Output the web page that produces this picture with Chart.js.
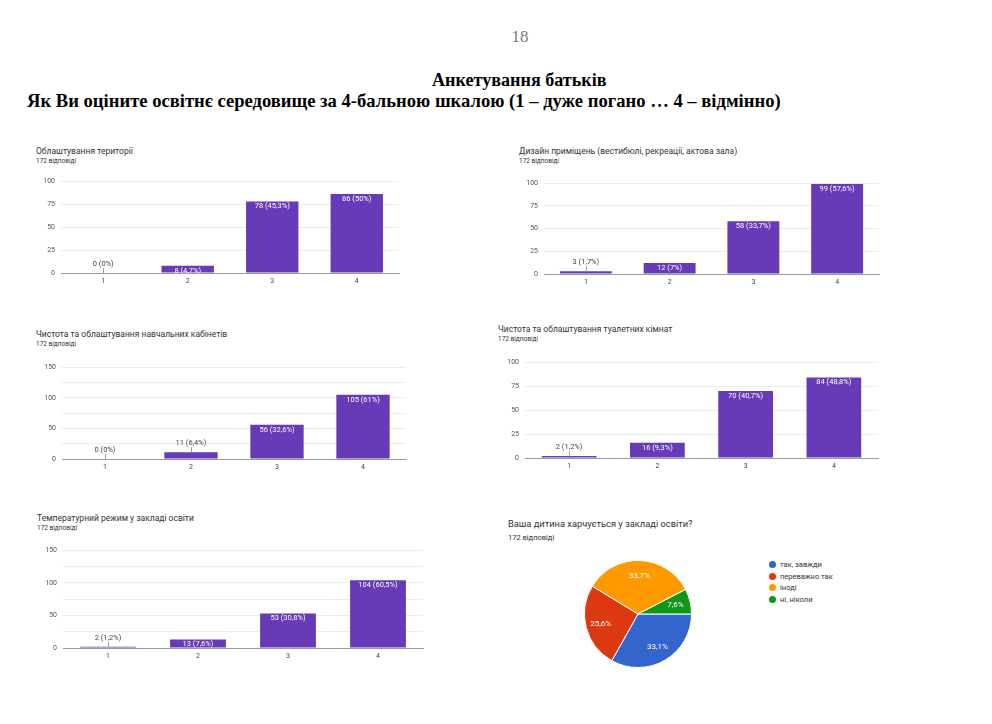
<!DOCTYPE html>
<html>
<head>
<meta charset="utf-8">
<script src="https://cdn.jsdelivr.net/npm/chart.js@4.4.1/dist/chart.umd.min.js"></script>
<style>
  body { margin: 0; background: #fff; }
  #page { position: relative; width: 992px; height: 724px; overflow: hidden; font-family: Roboto, Arial, sans-serif; }
  .abs { position: absolute; white-space: nowrap; }
  .pageNo { left: 0; width: 1040px; top: 27px; text-align: center; font: 17px "Liberation Serif", serif; color: #7a7a7a; }
  .head { font-family: "Liberation Serif", serif; font-weight: bold; color: #000; font-size: 18px; transform-origin: 0 0; }
  .ctitle { font-size: 8.5px; color: #333; }
  .csub { font-size: 6.5px; color: #333; }
  .legend { font-size: 7.5px; color: #333; }
  .legend .dot { display: inline-block; width: 7px; height: 7px; border-radius: 50%; margin-right: 4px; vertical-align: -1px; }
  canvas { position: absolute; }
</style>
</head>
<body>
<div id="page">
  <div class="abs pageNo">18</div>
  <div class="abs head" id="h1" style="left:432px;top:70px;">Анкетування батьків</div>
  <div class="abs head" id="h2" style="left:27px;top:91px;">Як Ви оціните освітнє середовище за 4-бальною шкалою (1 – дуже погано … 4 – відмінно)</div>
</div>
<script>
// Rating scale shared by the bar charts
const ratingLabels = ['1', '2', '3', '4'];
const totalResponses = 172;
const responsesText = '172 відповіді';

// Counts per rating
const territoryCounts = [0, 8, 78, 86];
const roomDesignCounts = [3, 12, 58, 99];
const classroomCounts = [0, 11, 56, 105];
const toiletCounts = [2, 16, 70, 84];
const temperatureCounts = [2, 13, 53, 104];

// Pie chart: meals
const mealLabels = ['так, завжди', 'переважно так', 'іноді', 'ні, ніколи'];
const mealCounts = [57, 44, 58, 13];
const mealColors = ['#3366cc', '#dc3912', '#ff9900', '#109618'];

const BAR_COLOR = '#673ab7';
const page = document.getElementById('page');

// squeeze the headings to the widths seen in the picture
function fitWidth(id, w) {
    const el = document.getElementById(id);
    el.style.transform = 'scaleX(' + (w / el.offsetWidth) + ')';
}
fitWidth('h1', 175);
fitWidth('h2', 754);

/**
 * Percentage text as in Google Forms (comma decimal)
 */
function pct(v) {
    const p = Math.round(v / totalResponses * 1000) / 10;
    return String(p).replace('.', ',');
}

function addText(cls, text, x, y) {
    const d = document.createElement('div');
    d.className = 'abs ' + cls;
    d.textContent = text;
    d.style.left = x + 'px';
    d.style.top = y + 'px';
    page.appendChild(d);
    return d;
}

function addCanvas(left, top, w, h) {
    const c = document.createElement('canvas');
    c.width = w;
    c.height = h;
    c.style.left = left + 'px';
    c.style.top = top + 'px';
    c.style.width = w + 'px';
    c.style.height = h + 'px';
    page.appendChild(c);
    return c;
}

// value labels on top of / inside the bars
const barLabelPlugin = {
    id: 'barLabels',
    afterDatasetsDraw(chart) {
        const ctx = chart.ctx;
        const data = chart.data.datasets[0].data;
        const yMax = chart.scales.y.max;
        ctx.save();
        ctx.font = '7.5px Roboto, Arial, sans-serif';
        ctx.textAlign = 'center';
        ctx.textBaseline = 'middle';
        chart.getDatasetMeta(0).data.forEach((bar, i) => {
            const v = data[i];
            const text = v + ' (' + pct(v) + '%)';
            if (v >= 0.075 * yMax) {
                ctx.fillStyle = '#ffffff';
                ctx.fillText(text, bar.x, bar.y + 5);
            } else {
                ctx.strokeStyle = '#9e9e9e';
                ctx.lineWidth = 1;
                ctx.beginPath();
                ctx.moveTo(Math.round(bar.x) + 0.5, bar.y);
                ctx.lineTo(Math.round(bar.x) + 0.5, bar.y - 5);
                ctx.stroke();
                ctx.fillStyle = '#444';
                ctx.fillText(text, bar.x, bar.y - 9);
            }
        });
        ctx.restore();
    }
};

/**
 * Bar chart placed so that its plot area covers the given box
 */
function barChart(opts) {
    const axisW = 30, axisH = 16, padRight = 2;
    const plotW = opts.right - opts.left;
    const plotH = opts.bottom - opts.top;
    addText('ctitle', opts.title, opts.tx, opts.ty - 6);
    addText('csub', responsesText, opts.tx, opts.ty + 5);
    const w = plotW + axisW + padRight;
    const h = plotH + 10 + axisH;
    const canvas = addCanvas(opts.left - axisW, opts.top - 10, w, h);
    const labelStep = opts.max > 100 ? 50 : 25;
    const chart = new Chart(canvas, {
        type: 'bar',
        data: {
            labels: ratingLabels,
            datasets: [{
                data: opts.data,
                backgroundColor: BAR_COLOR,
                barPercentage: 0.62,
                categoryPercentage: 1
            }]
        },
        options: {
            responsive: false,
            animation: false,
            layout: { padding: { top: 0, right: padRight, left: 0, bottom: 0 } },
            plugins: { legend: { display: false }, tooltip: { enabled: false } },
            scales: {
                x: {
                    grid: { display: false, drawTicks: false },
                    border: { color: '#9a9a9a' },
                    ticks: { font: { size: 7, family: 'Roboto' }, color: '#444', padding: 4 },
                    afterFit: s => { s.height = axisH; }
                },
                y: {
                    min: 0,
                    max: opts.max,
                    border: { display: false },
                    grid: {
                        drawTicks: false,
                        color: c => (c.tick && c.tick.value === 0) ? '#9a9a9a' : '#ececec'
                    },
                    ticks: {
                        stepSize: 25,
                        padding: 6,
                        font: { size: 7, family: 'Roboto' },
                        color: '#555',
                        callback: v => (v % labelStep === 0 ? v : '')
                    },
                    afterFit: s => { s.width = axisW; }
                }
            }
        },
        plugins: [barLabelPlugin]
    });
    // line the plot area up with the box
    const ca = chart.chartArea;
    canvas.style.top = (opts.top - ca.top) + 'px';
    chart.resize(w, h + plotH - (ca.bottom - ca.top));
    canvas.style.left = (opts.left - chart.chartArea.left) + 'px';
    return chart;
}

barChart({ title: 'Облаштування території', tx: 36, ty: 152, data: territoryCounts, max: 100, left: 61, right: 399, top: 181, bottom: 273 });
barChart({ title: 'Дизайн приміщень (вестибюлі, рекреації, актова зала)', tx: 519, ty: 152, data: roomDesignCounts, max: 100, left: 544, right: 879, top: 183, bottom: 274 });
barChart({ title: 'Чистота та облаштування навчальних кабінетів', tx: 36, ty: 335, data: classroomCounts, max: 150, left: 62, right: 406, top: 367, bottom: 459 });
barChart({ title: 'Чистота та облаштування туалетних кімнат', tx: 498, ty: 330, data: toiletCounts, max: 100, left: 525, right: 878, top: 362, bottom: 458 });
barChart({ title: 'Температурний режим у закладі освіти', tx: 37, ty: 519, data: temperatureCounts, max: 150, left: 63, right: 423, top: 550, bottom: 648 });

// Pie chart
const pt = addText('ctitle', 'Ваша дитина харчується у закладі освіти?', 508, 518);
pt.style.fontSize = '9.3px';
const ps = addText('csub', responsesText, 508, 533);
ps.style.fontSize = '7.5px';

mealLabels.forEach((lab, i) => {
    const row = addText('legend', '', 769, 560 + i * 11.5);
    const dot = document.createElement('span');
    dot.className = 'dot';
    dot.style.background = mealColors[i];
    row.appendChild(dot);
    row.appendChild(document.createTextNode(lab));
});

const pieLabelPlugin = {
    id: 'pieLabels',
    afterDatasetsDraw(chart) {
        const ctx = chart.ctx;
        const data = chart.data.datasets[0].data;
        ctx.save();
        ctx.font = '8px Roboto, Arial, sans-serif';
        ctx.fillStyle = '#fff';
        ctx.textAlign = 'center';
        ctx.textBaseline = 'middle';
        chart.getDatasetMeta(0).data.forEach((arc, i) => {
            const mid = (arc.startAngle + arc.endAngle) / 2;
            const r = arc.outerRadius * 0.72;
            ctx.fillText(pct(data[i]) + '%', arc.x + Math.cos(mid) * r, arc.y + Math.sin(mid) * r);
        });
        ctx.restore();
    }
};

const pieCanvas = addCanvas(584, 560, 108, 108);
new Chart(pieCanvas, {
    type: 'pie',
    data: {
        labels: mealLabels,
        datasets: [{
            data: mealCounts,
            backgroundColor: mealColors,
            borderColor: '#fff',
            borderWidth: 1
        }]
    },
    options: {
        responsive: false,
        animation: false,
        rotation: 90,
        layout: { padding: 0 },
        plugins: { legend: { display: false }, tooltip: { enabled: false } }
    },
    plugins: [pieLabelPlugin]
});
</script>
</body>
</html>
